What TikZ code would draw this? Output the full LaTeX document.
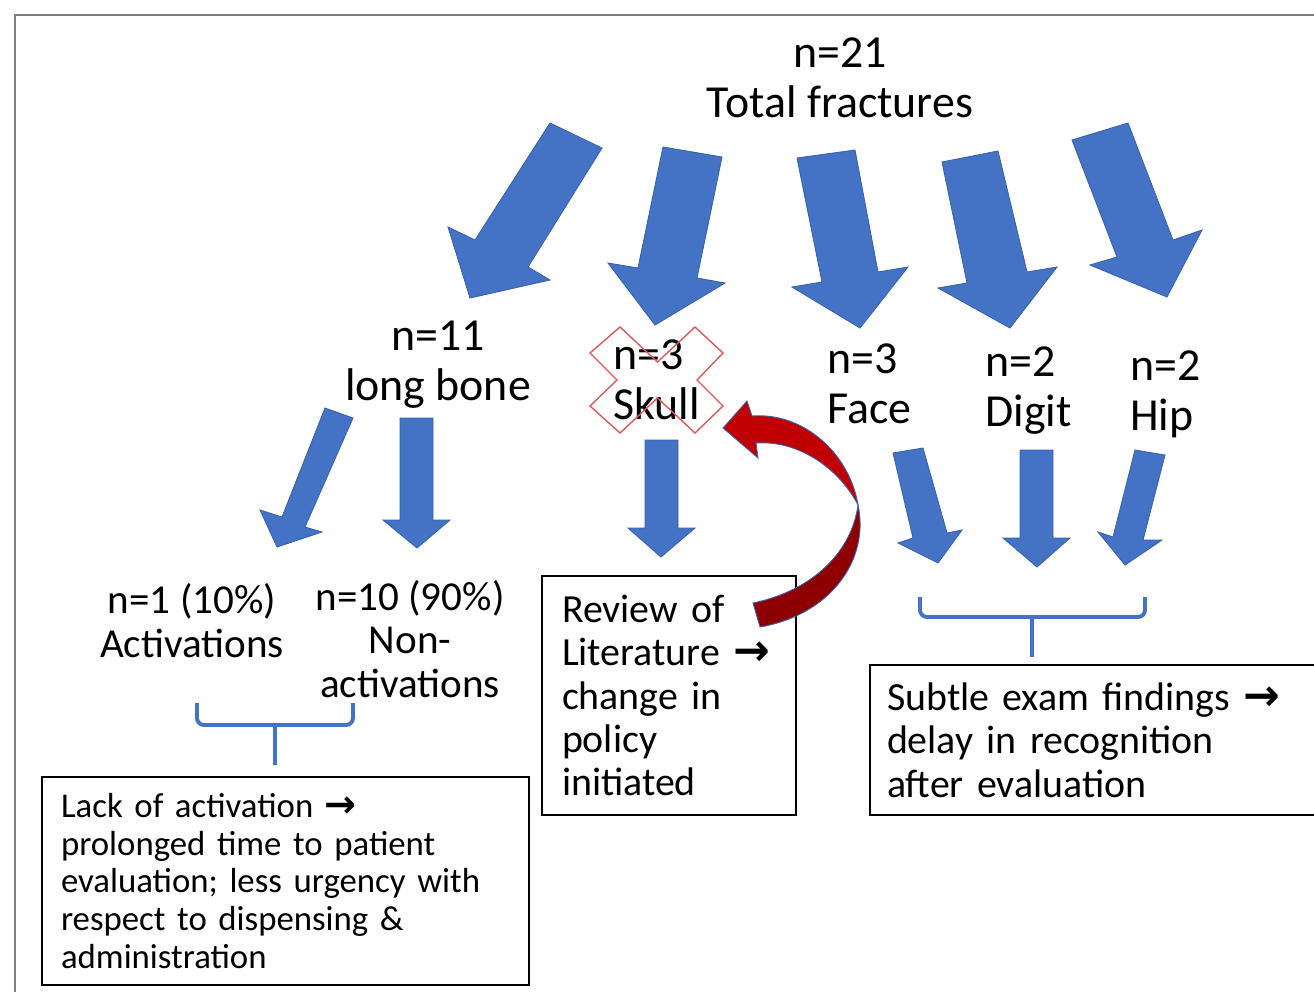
\documentclass[tikz,border=0pt]{standalone}
\usepackage{fontspec}
\setmainfont{Carlito}
\newfontfamily\symfont[Scale=1.1]{DejaVu Sans}
\definecolor{ablue}{HTML}{4472C4}
\definecolor{aline}{HTML}{3A63AE}
\definecolor{redtop}{HTML}{C00000}
\definecolor{reddark}{HTML}{8E0000}
\definecolor{xred}{HTML}{E05858}
\definecolor{framegray}{HTML}{7F7F7F}
\newcommand{\rarr}{{\symfont\bfseries →}}
\newcommand{\bigf}{\fontsize{26.1}{28.35}\selectfont}
\newcommand{\lblf}{\fontsize{23.4}{24.5}\selectfont}
\newcommand{\midf}{\fontsize{22.7}{24.7}\selectfont}
\newcommand{\smallf}{\fontsize{19.8}{21.5}\selectfont}
\begin{document}
\begin{tikzpicture}[x=0.02cm,y=-0.02cm,
  barrow/.style={fill=ablue, draw=aline, line width=0.5pt, line join=miter},
  bigl/.style={inner sep=0pt, font=\bigf},
  midl/.style={inner sep=0pt, font=\lblf},
  txtbox/.style={draw=black, line width=0.85pt, align=left, inner ysep=0pt},
  brace/.style={draw=ablue, line width=2.2pt, rounded corners=4pt}]
\useasboundingbox (0,0) rectangle (1314,991);
\fill[white] (0,0) rectangle (1314,991);
\draw[framegray, line width=1.2pt] (15,1000) -- (15,15) -- (1330,15);

% labels (anchor base = baseline of the last line)
\node[bigl, align=center, anchor=base] (total) at (840,117) {n=21\\Total fractures};
\node[bigl, align=center, anchor=base] (long) at (438,400) {n=11\\long bone};
\node[bigl, align=left, anchor=base west] (skull) at (613,419) {n=3\\Skull};
\node[bigl, align=left, anchor=base west] (face) at (827,423) {n=3\\Face};
\node[bigl, align=left, anchor=base west] (digit) at (985,426) {n=2\\Digit};
\node[bigl, align=left, anchor=base west] (hip) at (1130,430) {n=2\\Hip};
\node[midl, align=center, anchor=base] (act) at (192,657) {n=1 (10\%)\\Activations};
\node[midl, align=center, anchor=base] (nonact) at (410,697) {n=10 (90\%)\\Non-\\activations};

% red X over skull
\draw[xred, line width=0.8pt, line join=miter]
  (590,353) -- (620,327) -- (657.5,362) -- (695,327) -- (723,353) -- (697,380)
  -- (723,406) -- (695,433) -- (657.5,398) -- (620,433) -- (590,406) -- (617,380) -- cycle;

% top arrows
\path[barrow] (550,123) -- (602,148) -- (528,267) -- (550,280) -- (470,298) -- (448,227) -- (475,240) -- cycle;
\path[barrow] (663,147) -- (722,157) -- (697,278) -- (725,283) -- (655,325) -- (608,263) -- (638,268) -- cycle;
\path[barrow] (797,158) -- (855,150) -- (878,272) -- (908,267) -- (860,328) -- (792,287) -- (822,282) -- cycle;
\path[barrow] (942,162) -- (998,151) -- (1027,272) -- (1057,267) -- (1010,328) -- (938,288) -- (967,283) -- cycle;
\path[barrow] (1072,140) -- (1128,123) -- (1173,240) -- (1202,230) -- (1167,297) -- (1090,265) -- (1117,257) -- cycle;

% lower arrows
\path[barrow] (325,408) -- (353,418) -- (305,527) -- (322,532) -- (277,547) -- (260,510) -- (282,517) -- cycle;
\path[barrow] (400,418) -- (433,418) -- (433,520) -- (450,520) -- (417,548) -- (383,520) -- (400,520) -- cycle;
\path[barrow] (645,440) -- (678,440) -- (678,528) -- (695,528) -- (661,557) -- (628,528) -- (645,528) -- cycle;
\path[barrow] (893,453) -- (923,448) -- (947,533) -- (962,530) -- (938,563) -- (898,543) -- (913,538) -- cycle;
\path[barrow] (1020,450) -- (1053,450) -- (1053,538) -- (1070,538) -- (1037,567) -- (1003,538) -- (1020,538) -- cycle;
\path[barrow] (1135,450) -- (1165,455) -- (1143,540) -- (1162,540) -- (1125,565) -- (1098,532) -- (1113,537) -- cycle;

% text boxes
\node[txtbox, inner xsep=0.38cm, text width=8.98cm, minimum height=4.16cm, font=\smallf] (lbox) at (285.5,881)
  {Lack of activation \rarr\\prolonged time to patient\\evaluation; less urgency with\\respect to dispensing \&\\administration};
\node[txtbox, inner xsep=0.4cm, text width=4.28cm, minimum height=4.78cm, font=\midf] (mbox) at (669,695.5)
  {Review of\\Literature \rarr\\change in\\policy\\initiated};
\node[txtbox, inner xsep=0.34cm, text width=8.8cm, minimum height=3.0cm, font=\midf] (rbox) at (1107,740)
  {Subtle exam findings \rarr\\delay in recognition\\after evaluation};

% braces
\draw[brace] (197,703) -- (197,725) -- (353,725) -- (353,703);
\coordinate (lstem) at (275,725);
\draw[brace] (lstem) -- ++(0,40);
\draw[brace] (920,597) -- (920,617) -- (1145,617) -- (1145,597);
\coordinate (rstem) at (1032,617);
\draw[brace] (rstem) -- ++(0,40);

% red curved arrow
\path[fill=reddark, draw=aline, line width=0.5pt] (858,505) .. controls (870,560) and (830,615) .. (760,627)
  -- (753,603) .. controls (815,590) and (852,550) .. (858,505) -- cycle;
\path[fill=redtop, draw=aline, line width=0.5pt] (747,401) -- (723,428) -- (758,458) -- (756,443)
  .. controls (800,440) and (840,470) .. (858,505)
  .. controls (850,455) and (805,412) .. (752,416) -- cycle;
\end{tikzpicture}
\end{document}
